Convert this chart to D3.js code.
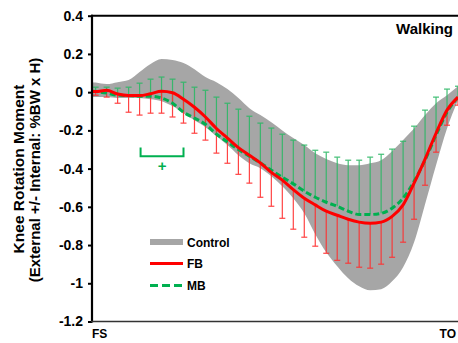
<!DOCTYPE html>
<html><head><meta charset="utf-8">
<script src="https://cdn.jsdelivr.net/npm/d3@7"></script>
<style>
html,body{margin:0;padding:0;background:#fff;}
svg text{font-family:Arial,"Liberation Sans",sans-serif;font-weight:bold;fill:#000;}
</style></head>
<body><svg id="c" width="458" height="343"></svg>
<script>
// % of stance (FS -> TO)
const pct = [0,1,4,7,10,13,16,19,22,25,28,31,34,37,40,43,46,49,52,55,58,61,64,67,70,73,76,79,82,85,88,91,94,97,100];
// FB group mean
const fbMean = [0.003,0.003,0.010,-0.010,-0.018,-0.018,-0.008,0.005,-0.003,-0.037,-0.079,-0.130,-0.190,-0.240,-0.290,-0.330,-0.370,-0.420,-0.460,-0.510,-0.555,-0.590,-0.623,-0.644,-0.665,-0.680,-0.686,-0.680,-0.650,-0.590,-0.476,-0.350,-0.215,-0.094,-0.026];
// MB group mean
const mbMean = [0.005,0.003,-0.005,-0.016,-0.018,-0.021,-0.021,-0.031,-0.058,-0.105,-0.136,-0.168,-0.220,-0.260,-0.300,-0.335,-0.370,-0.408,-0.445,-0.480,-0.518,-0.550,-0.576,-0.597,-0.623,-0.640,-0.640,-0.634,-0.607,-0.555,-0.466,-0.356,-0.225,-0.105,-0.026];
// Control band (mean +/- SD)
const ctrlHigh = [0.052,0.050,0.042,0.052,0.063,0.105,0.147,0.173,0.168,0.152,0.120,0.079,0.052,0.016,-0.031,-0.084,-0.120,-0.157,-0.200,-0.240,-0.277,-0.320,-0.350,-0.372,-0.382,-0.382,-0.372,-0.356,-0.309,-0.250,-0.190,-0.120,-0.058,-0.016,0.031];
const ctrlLow = [-0.026,-0.026,-0.026,-0.031,-0.031,-0.031,-0.037,-0.047,-0.073,-0.110,-0.147,-0.183,-0.230,-0.277,-0.330,-0.372,-0.398,-0.440,-0.492,-0.555,-0.634,-0.743,-0.838,-0.911,-0.974,-1.016,-1.037,-1.031,-0.990,-0.916,-0.785,-0.586,-0.382,-0.190,-0.042];
// Error bar ends: MB mean + SD (up), FB mean - SD (down)
const mbUpper = [null,0.026,0.026,0.021,0.026,0.047,0.068,0.079,0.068,0.052,0.026,0.010,-0.026,-0.058,-0.089,-0.126,-0.162,-0.188,-0.220,-0.251,-0.277,-0.304,-0.314,-0.340,-0.356,-0.356,-0.340,-0.325,-0.298,-0.257,-0.178,-0.094,-0.026,0.016,0.031];
const fbLower = [null,-0.016,-0.026,-0.058,-0.105,-0.120,-0.110,-0.110,-0.130,-0.162,-0.215,-0.251,-0.319,-0.372,-0.430,-0.476,-0.550,-0.597,-0.660,-0.717,-0.759,-0.806,-0.843,-0.880,-0.895,-0.916,-0.921,-0.900,-0.864,-0.785,-0.665,-0.487,-0.314,-0.173,-0.068];
const yTicks = [0.4,0.2,0,-0.2,-0.4,-0.6,-0.8,-1,-1.2];
const xLabels = ["FS","TO"];
const legendItems = ["Control","FB","MB"];
const title = "Walking";
const yTitle = ["Knee Rotation Moment","(External +/- Internal: %BW x H)"];
const sigPct = [13,25]; // significance bracket span
const sigLabel = "+";

const svg = d3.select("#c");
const x = d3.scaleLinear().domain([0,100]).range([92,458]);
const y = d3.scaleLinear().domain([-1.2,0.4]).range([321.5,15.7]);

const GRAY="#a6a6a6", RED="#ff0000", GREEN="#00b050";

// control band
const area = d3.area().x((d,i)=>x(pct[i])).y0((d,i)=>y(ctrlLow[i])).y1((d,i)=>y(ctrlHigh[i])).curve(d3.curveMonotoneX);
svg.append("path").attr("d",area(pct)).attr("fill",GRAY);

// error bars
const idx = d3.range(1,pct.length);
const cap = 3;
const gG = svg.append("g").attr("stroke","#2db866").attr("stroke-width",1.2).attr("opacity",0.9);
idx.forEach(i=>{
  const xx=x(pct[i]);
  gG.append("line").attr("x1",xx).attr("x2",xx).attr("y1",y(mbMean[i])).attr("y2",y(mbUpper[i]));
  gG.append("line").attr("x1",xx-cap).attr("x2",xx+cap).attr("y1",y(mbUpper[i])).attr("y2",y(mbUpper[i]));
});
const gR = svg.append("g").attr("stroke","#ff3030").attr("stroke-width",1.2).attr("opacity",0.9);
idx.forEach(i=>{
  const xx=x(pct[i]);
  gR.append("line").attr("x1",xx).attr("x2",xx).attr("y1",y(fbMean[i])).attr("y2",y(fbLower[i]));
  gR.append("line").attr("x1",xx-cap).attr("x2",xx+cap).attr("y1",y(fbLower[i])).attr("y2",y(fbLower[i]));
});

// mean lines
const line = arr => d3.line().x((d,i)=>x(pct[i])).y((d,i)=>y(arr[i])).curve(d3.curveMonotoneX)(pct);
svg.append("path").attr("d",line(mbMean)).attr("fill","none").attr("stroke",GREEN).attr("stroke-width",3).attr("stroke-dasharray","6,3");
svg.append("path").attr("d",line(fbMean)).attr("fill","none").attr("stroke",RED).attr("stroke-width",3);

// axes
const yAxis = d3.axisLeft(y).tickValues(yTicks).tickSize(4).tickPadding(5).tickFormat(d=>d===0?"0":String(d));
const ga = svg.append("g").attr("transform","translate(92,0)").call(yAxis);
ga.select(".domain").remove();
ga.selectAll(".tick line").attr("stroke","#000").attr("stroke-width",2);
ga.selectAll(".tick text").style("font-size","14px").style("font-family","Arial, 'Liberation Sans', sans-serif").style("font-weight","bold").attr("fill","#000");
svg.append("line").attr("x1",92).attr("x2",92).attr("y1",y(0.4)-1).attr("y2",y(-1.2)+1).attr("stroke","#000").attr("stroke-width",2.2);
svg.append("line").attr("x1",91).attr("x2",458).attr("y1",y(0.4)).attr("y2",y(0.4)).attr("stroke","#000").attr("stroke-width",2);
svg.append("line").attr("x1",91).attr("x2",458).attr("y1",y(-1.2)).attr("y2",y(-1.2)).attr("stroke","#333").attr("stroke-width",1.5);

// x labels
svg.append("text").attr("x",x(0)).attr("y",338).style("font-size","12px").text(xLabels[0]);
svg.append("text").attr("x",456).attr("y",338).attr("text-anchor","end").style("font-size","12px").text(xLabels[1]);

// title
svg.append("text").attr("x",453).attr("y",34).attr("text-anchor","end").style("font-size","15px").text(title);

// y title
svg.append("text").attr("transform","translate(24,169) rotate(-90)").attr("text-anchor","middle").style("font-size","15.5px").text(yTitle[0]);
svg.append("text").attr("transform","translate(40,170) rotate(-90)").attr("text-anchor","middle").style("font-size","15px").text(yTitle[1]);

// significance bracket
const bx0=x(sigPct[0])+1, bx1=x(sigPct[1]);
svg.append("path").attr("d",`M${bx0},${y(-0.29)}V${y(-0.335)}H${bx1}V${y(-0.29)}`).attr("fill","none").attr("stroke",GREEN).attr("stroke-width",2);
svg.append("text").attr("x",(bx0+bx1)/2).attr("y",y(-0.41)).attr("text-anchor","middle").style("font-size","15px").style("fill",GREEN).text(sigLabel);

// legend
const lx=150, lw=33;
svg.append("line").attr("x1",lx).attr("x2",lx+lw).attr("y1",242).attr("y2",242).attr("stroke",GRAY).attr("stroke-width",6);
svg.append("line").attr("x1",lx).attr("x2",lx+lw).attr("y1",263.5).attr("y2",263.5).attr("stroke",RED).attr("stroke-width",3);
svg.append("line").attr("x1",lx).attr("x2",lx+lw).attr("y1",285.5).attr("y2",285.5).attr("stroke",GREEN).attr("stroke-width",3).attr("stroke-dasharray","8,4");
[246.5,268,290].forEach((yy,i)=>{
  svg.append("text").attr("x",187).attr("y",yy).style("font-size","12px").text(legendItems[i]);
});
</script></body></html>
